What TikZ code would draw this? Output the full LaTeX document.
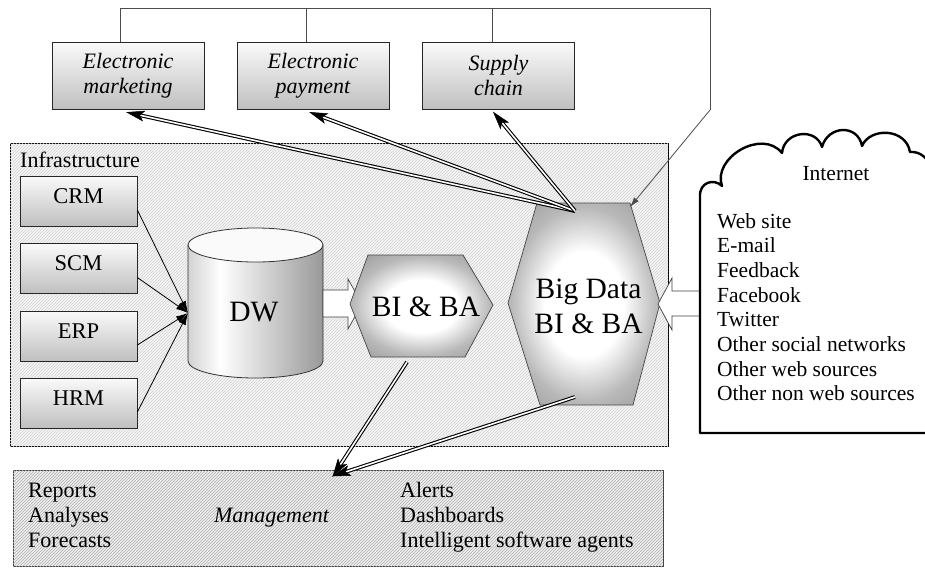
\documentclass[tikz,border=0pt]{standalone}
\usepackage{fontspec}
\setmainfont{Liberation Serif}
\usetikzlibrary{arrows.meta,patterns,calc}
\pgfdeclarehorizontalshading{dwshade}{100bp}{color(0bp)=(gray!35); color(25bp)=(gray!35); color(37bp)=(white); color(75bp)=(gray!80); color(100bp)=(gray!80)}
\pgfdeclareradialshading{hexshade}{\pgfpoint{0bp}{0bp}}{color(0bp)=(white); color(13bp)=(white); color(24bp)=(gray!55); color(34bp)=(gray!80); color(50bp)=(gray!80)}
\begin{document}
\begin{tikzpicture}[x=1pt,y=-1pt,
  every node/.style={inner sep=0pt},
  conn/.style={draw=gray!60!black, line width=0.8pt},
  thinarrow/.style={draw=black, line width=0.8pt, -{Latex[length=12pt,width=7pt]}},
  dblline/.style={draw=black, double=white, double distance=1.6pt, line width=1.1pt, shorten >=12pt},
  tipfill/.style={fill=black, draw=black, line width=0.5pt, line join=miter},
  blockarrow/.style={fill=white, draw=gray!50!black, line width=0.7pt},
  ebox/.style={draw=gray!30!black, line width=0.7pt, top color=gray!4, bottom color=gray!50, minimum width=152pt, minimum height=67pt, align=center, font=\itshape\fontsize{22}{25}\selectfont},
  sbox/.style={draw=gray!30!black, line width=0.7pt, top color=gray!4, bottom color=gray!50, minimum width=117pt, minimum height=50pt, text depth=10.5pt, font=\fontsize{22.5}{25}\selectfont},
  hexa/.style={shading=hexshade, draw=gray!55!black, line width=0.7pt},
  big/.style={font=\fontsize{29.5}{35}\selectfont},
  txt/.style={font=\fontsize{22}{25}\selectfont},
  nettxt/.style={font=\fontsize{21.5}{25}\selectfont}]
\useasboundingbox (0,0) rectangle (925,568);

% frames
\draw[draw=black, line width=0.8pt, fill=gray!8, postaction={pattern=north east lines, pattern color=gray!35}] (10,143) rectangle (668,446);
\draw[draw=gray!50!black, line width=0.8pt, fill=gray!12, postaction={pattern=north east lines, pattern color=gray!65}] (13,470) rectangle (663,566);
\node[anchor=base west, txt] (inflabel) at (20,167) {Infrastructure};

% top application boxes
\node[ebox] (em) at (128,75.5) {Electronic\\marketing};
\node[ebox] (ep) at (313,75.5) {Electronic\\payment};
\node[ebox] (sc) at (498.5,75.5) {Supply\\chain};

\coordinate (topR) at (710,8);
\coordinate (bend) at (710,110);
\draw[conn] ([xshift=-8pt]em.north) |- (topR) -- (bend);
\draw[conn] ([xshift=-7pt]ep.north) -- ([xshift=-7pt]ep.north |- topR);
\draw[conn] ([xshift=-6.5pt]sc.north) -- ([xshift=-6.5pt]sc.north |- topR);

% source systems
\node[sbox] (crm) at (78.5,201) {CRM};
\node[sbox] (scm) at (78.5,268.5) {SCM};
\node[sbox] (erp) at (78.5,336) {ERP};
\node[sbox] (hrm) at (78.5,403) {HRM};

\coordinate (dwin) at (188,313);
\foreach \s in {crm,scm,erp,hrm}
  \draw[thinarrow] ([yshift=-9pt]\s.east) -- (dwin);

% DW cylinder
\shade[shading=dwshade, draw=gray!40!black, line width=0.8pt] (188,245) -- (188,361) arc[start angle=180, end angle=360, x radius=67.5pt, y radius=17pt] -- (323,245) -- cycle;
\draw[fill=gray!4, draw=gray!40!black, line width=0.8pt] (255.5,245) ellipse[x radius=67.5pt, y radius=17pt];
\node[big] (dw) at (254,312.5) {DW};

% block arrow DW -> BI & BA
\draw[blockarrow] (323,290) -- (348,290) -- (348,279) -- (362,304) -- (348,329) -- (348,317) -- (323,317) -- cycle;

% BI & BA hexagon
\coordinate (bibot) at (407,362);
\shade[hexa] (350,304) -- (368,255) -- (463,255) -- (493,305) -- (465,357) -- (371,357) -- cycle;
\node[big] (bi) at (426,306.5) {BI \& BA};

% Big Data hexagon
\coordinate (bdtop) at (575,211);
\coordinate (bdbot) at (575,397);
\coordinate (bdTR) at (630,207);
\shade[hexa] (508,303) -- (537,203) -- (630,203) -- (660,303) -- (633,405) -- (540,405) -- cycle;
\node[big, align=center] (bd) at (588.5,306.5) {Big Data\\BI \& BA};

% arrow from Internet
\draw[blockarrow] (700,291) -- (672,291) -- (672,278) -- (658,304) -- (672,330) -- (672,316) -- (700,316);

% Internet cloud
\draw[line width=2.4pt, fill=white, line join=round] (700,433) -- (700,197)
  .. controls (699,182) and (714,178) .. (722,186)
  .. controls (712,158) and (762,128) .. (782,153)
  .. controls (784,131) and (816,127) .. (822,147)
  .. controls (828,125) and (858,124) .. (862,146)
  .. controls (870,127) and (906,128) .. (910,152)
  .. controls (932,150) and (942,186) .. (930,202)
  -- (930,433) -- cycle;
\node[anchor=base, nettxt] (net) at (836,180) {Internet};
\foreach \t [count=\i from 0] in {Web site,E-mail,Feedback,Facebook,Twitter,Other social networks,Other web sources,Other non web sources}
  \node[anchor=base west, nettxt] (net\i) at (717,{228+24.7*\i}) {\t};

% right connector into Big Data
\draw[conn, -{Latex[length=10pt,width=6pt]}] (bend) -- (bdTR);

% management texts
\foreach \t [count=\i from 0] in {Reports,Analyses,Forecasts}
  \node[anchor=base west, txt] (ml\i) at (28,{497+25*\i}) {\t};
\foreach \t [count=\i from 0] in {Alerts,Dashboards,Intelligent software agents}
  \node[anchor=base west, txt] (mr\i) at (400,{497+25*\i}) {\t};
\node[anchor=base, txt, font=\itshape\fontsize{22}{25}\selectfont] (mgmt) at (271.5,522) {Management};
\coordinate (mtip) at (333,476);

% double arrows with solid black heads
\coordinate (tem) at ([yshift=-3pt,xshift=-1pt]em.south);
\coordinate (tep) at ([yshift=-3pt,xshift=-3pt]ep.south);
\coordinate (tsc) at ([yshift=-3pt,xshift=-5pt]sc.south);
\foreach \a/\b in {bdtop/tem,bdtop/tep,bdtop/tsc,bibot/mtip,bdbot/mtip}{
  \draw[dblline] (\a) -- (\b);
  \coordinate (hb) at ($(\b)!17pt!(\a)$);
  \filldraw[tipfill] (\b) -- ($(hb)!5pt!90:(\b)$) -- ($(\b)!13pt!(\a)$) -- ($(hb)!5pt!-90:(\b)$) -- cycle;
}
\end{tikzpicture}
\end{document}
